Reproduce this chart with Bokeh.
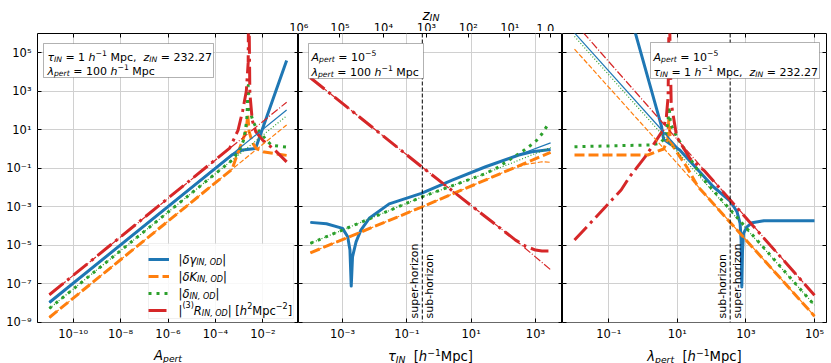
import numpy as np
from bokeh.plotting import figure
from bokeh.models import (Range1d, FixedTicker, Label, BoxAnnotation, Span, Spacer, LogAxis,
                          Legend, LegendItem, CustomJSTickFormatter)
from bokeh.layouts import row, column
from bokeh.embed import file_html
from bokeh.resources import INLINE

FONT = "DejaVu Sans"
C_BLUE, C_ORANGE, C_GREEN, C_RED = "#1f77b4", "#ff7f0e", "#2ca02c", "#d62728"

# ---------------- data (log10 values) ----------------
# Panel 1: x = log10(A_pert)
p1_blue_x = [-11.0, -3.3, -2.85, -2.31, -1.0]
p1_blue_y = [-7.97, -0.30, -0.05, 0.03, 4.6]
p1_orange_x = [-11.0, -3.3, -3.12, -2.9, -2.7, -2.64, -2.58, -2.45, -2.28, -1.94, -1.0]
p1_orange_y = [-8.75, -1.05, -0.42, 0.30, 0.97, 1.80, 0.90, 0.35, 0.02, -0.16, -0.33]
p1_green_x = [-11.0, -3.3, -3.0, -2.8, -2.68, -2.62, -2.56, -2.4, -2.28, -1.84, -1.63, -1.0]
p1_green_y = [-8.28, -0.58, -0.10, 0.50, 1.50, 3.30, 2.00, 1.40, 1.10, 0.45, 0.19, 0.10]
p1_red_x = [-11.0, -3.4, -3.05, -2.85, -2.7, -2.62, -2.61, -2.58, -2.55, -2.45, -2.3, -2.0, -1.5, -1.0]
p1_red_y = [-7.57, 0.05, 0.97, 2.0, 3.0, 4.5, 6.5, 6.5, 2.9, 1.5, 0.9, 0.45, -0.05, -0.67]
p1_lin_x = [-11.0, -1.0]
p1_lin_blue = [-7.97, 2.03]
p1_lin_orange = [-8.75, 1.25]
p1_lin_green = [-8.28, 1.72]
p1_lin_red = [-7.57, 2.43]

# Panel 2: x = log10(tau_IN)
p2_blue_x = [-4.0, -3.5, -3.0, -2.84, -2.77, -2.73, -2.69, -2.58, -2.43, -2.17, -1.55, -0.55, 0.41, 1.45, 2.48, 2.89, 3.47]
p2_blue_y = [-3.81, -3.88, -4.12, -4.56, -5.25, -7.12, -5.60, -4.82, -4.21, -3.60, -2.85, -2.30, -1.61, -0.92, -0.31, -0.14, -0.02]
p2_orange_x = [-4.0, -0.52, 3.47]
p2_orange_y = [-5.39, -3.0, -0.17]
p2_green_x = [-4.0, -0.52, 1.45, 1.8, 2.58, 3.0, 3.21, 3.41]
p2_green_y = [-4.90, -2.48, -1.27, -0.98, -0.14, 0.38, 0.81, 1.33]
p2_red_x = [-4.0, -0.54, 0.98, 2.38, 2.7, 3.0, 3.2, 3.47]
p2_red_y = [3.70, -0.92, -2.91, -4.73, -5.05, -5.25, -5.3, -5.3]
p2_lin_blue_x = [-4.0, -3.5, -3.0, -2.84, -2.77, -2.73, -2.69, -2.58, -2.43, -2.17, -1.55, -0.55, 0.41, 1.45, 2.4, 3.47]
p2_lin_blue_y = [-3.81, -3.88, -4.12, -4.56, -5.25, -7.12, -5.60, -4.82, -4.21, -3.60, -2.85, -2.30, -1.61, -0.92, -0.35, 0.32]
p2_lin_orange_x = [-4.0, -0.52, 2.3, 2.7, 3.0, 3.2, 3.47]
p2_lin_orange_y = [-5.39, -3.0, -1.0, -0.8, -0.72, -0.66, -0.69]
p2_lin_green_x = [-4.0, -0.52, 1.45, 3.47]
p2_lin_green_y = [-4.90, -2.48, -1.27, 0.08]
p2_lin_red_x = [-4.0, -0.54, 0.98, 2.38, 3.47]
p2_lin_red_y = [3.70, -0.92, -2.91, -4.73, -6.27]

# Panel 3: x = log10(lambda_pert)
p3_blue_x = [-0.3, 0.54, 0.6, 0.8, 1.07, 2.05, 2.54, 2.74, 2.83, 2.86, 2.88, 2.90, 2.93, 3.03, 3.18, 3.52, 5.0]
p3_blue_y = [6.5, 1.16, 0.5, 0.25, -0.05, -1.96, -2.70, -3.26, -3.86, -4.73, -7.16, -5.3, -4.38, -4.04, -3.83, -3.73, -3.73]
p3_orange_x = [-2.0, 0.14, 0.39, 0.6, 0.72, 0.75, 0.8, 0.88, 1.27, 1.6, 5.0]
p3_orange_y = [-0.31, -0.31, -0.14, 0.0, 0.5, 1.5, 0.4, 0.12, -0.92, -1.95, -8.68]
p3_green_x = [-2.0, 0.19, 0.49, 0.65, 0.73, 0.76, 0.8, 0.98, 1.17, 1.46, 1.8, 5.0]
p3_green_y = [0.12, 0.21, 0.29, 0.6, 1.5, 2.2, 1.3, 0.64, 0.1, -0.74, -1.65, -8.11]
p3_red_x = [-2.0, -0.64, -0.39, 0.10, 0.39, 0.58, 0.68, 0.73, 0.755, 0.775, 0.82, 0.98, 1.37, 1.8, 5.0]
p3_red_y = [-4.73, -2.13, -1.44, -0.31, 0.46, 0.98, 1.68, 2.71, 6.5, 6.5, 2.4, 0.64, -0.5, -1.15, -7.6]
p3_lin_blue_x = [-2.0, 1.07]
p3_lin_blue_y = [6.03, -0.05]
p3_lin_x = [-2.0, 5.0]
p3_lin_orange = [5.19, -8.68]
p3_lin_green = [5.85, -8.11]
p3_lin_red = [6.56, -7.59]

tau_horizon = 10 ** -0.52
lam_horizon = 10 ** 2.54

# ticks
y_ticks = [1e-9, 1e-7, 1e-5, 1e-3, 1e-1, 1e1, 1e3, 1e5]
p1_ticks = [1e-10, 1e-8, 1e-6, 1e-4, 1e-2]
p2_ticks = [1e-3, 1e-1, 1e1, 1e3]
p3_ticks = [1e-1, 1e1, 1e3, 1e5]
z_tick_labels = ["10⁶", "10⁵", "10⁴", "10³", "10²", "10¹", "1", "0"]
z_tick_logtau = [-4.36, -3.08, -1.73, -0.39, 0.91, 2.20, 3.14, 3.47]

# --------------------------------------------------------------------------
WID = {' ': .318, '(': .390, ')': .390, ',': .318, '-': .361, '.': .318, '=': .838,
       'A': .684, 'D': .770, 'I': .295, 'K': .656, 'M': .863, 'N': .748, 'O': .787,
       'R': .695, '[': .390, ']': .390, 'c': .550, 'e': .615, 'h': .634, 'i': .278,
       'n': .634, 'o': .612, 'p': .635, 'r': .411, 's': .521, 't': .392, 'u': .634,
       'z': .525, '|': .337, '−': .838, 'τ': .58, 'λ': .59, 'δ': .61, 'γ': .59}
for d in "0123456789":
    WID[d] = .636


def tw(s, fs):
    return sum(WID.get(c, 0.6) for c in s) * fs


def rich(p, x, y, segs, fs=11.0, center=False, sub_drop=0.22, sup_rise=0.40):
    parts = []
    for t, k in segs:
        f = fs * 0.7 if k in ("sub", "sup") else fs
        parts.append((t, k, f, tw(t, f)))
    total = sum(pp[3] for pp in parts)
    cx = x - total / 2 if center else x
    for t, k, f, w in parts:
        dy = -sub_drop * fs if k == "sub" else (sup_rise * fs if k == "sup" else 0)
        style = "italic" if k in ("i", "sub") else "normal"
        lead = len(t) - len(t.lstrip())
        txt = t.strip()
        if txt:
            p.add_layout(Label(x=cx + tw(t[:lead], f), y=y + dy, x_units="screen", y_units="screen",
                               text=txt, text_font=FONT, text_font_size=f"{f:.2f}px",
                               text_font_style=style, text_baseline="alphabetic",
                               text_align="left", text_color="black", level="overlay"))
        cx += w


pow_fmt = CustomJSTickFormatter(code="""
const sup = {'-':'\u207b','0':'\u2070','1':'\u00b9','2':'\u00b2','3':'\u00b3','4':'\u2074',
             '5':'\u2075','6':'\u2076','7':'\u2077','8':'\u2078','9':'\u2079'};
const e = Math.round(Math.log10(tick));
return '10' + String(e).split('').map(c => sup[c]).join('');
""")
empty_fmt = CustomJSTickFormatter(code="return ''")

FH = 289
W1, W2, W3 = 261, 264, 264
LB, RB = 37, 5
TOP_H = 31          # strip holding the z_IN axis (labels and title)
TOP_B = 2
BOT_B = 18
BOT_H = 362 - TOP_H - (TOP_B + FH + BOT_B)


def style_axis(ax, ticks, labels=True):
    ax.ticker = FixedTicker(ticks=ticks, minor_ticks=[])
    ax.formatter = pow_fmt if labels else empty_fmt
    ax.major_tick_in = 4
    ax.major_tick_out = 0
    ax.major_tick_line_color = "black"
    ax.minor_tick_line_color = None
    ax.axis_line_color = None
    ax.major_label_text_font = FONT
    ax.major_label_text_font_size = "11.5px" if labels else "1px"
    ax.major_label_text_color = "black"
    if not labels:
        ax.major_label_standoff = 0


def make_fig(xr, fw, lb, rb, xticks, top_ticks, left_axis, left_ticks=False, right_ticks=True):
    p = figure(x_axis_type="log", y_axis_type="log", x_range=xr,
               y_range=Range1d(10 ** -9.01, 10 ** 6.0),
               y_axis_location="left" if left_axis else None,
               frame_width=fw, frame_height=FH, min_border_left=lb, min_border_right=rb,
               min_border_top=TOP_B, min_border_bottom=BOT_B, output_backend="svg",
               toolbar_location=None, background_fill_color="white", border_fill_color="white")
    p.outline_line_color = "black"
    p.outline_line_width = 1
    style_axis(p.xaxis[0], xticks)
    p.xaxis[0].major_label_standoff = 4
    if left_axis:
        style_axis(p.yaxis[0], y_ticks)
        p.yaxis[0].major_label_standoff = 6
    elif left_ticks:
        lax = LogAxis()
        style_axis(lax, y_ticks, False)
        p.add_layout(lax, "left")
    if right_ticks:
        rax = LogAxis()
        style_axis(rax, y_ticks, False)
        p.add_layout(rax, "right")
    tax = LogAxis()
    style_axis(tax, top_ticks, False)
    p.add_layout(tax, "above")
    p.xgrid.ticker = FixedTicker(ticks=xticks, minor_ticks=[])
    p.ygrid.ticker = FixedTicker(ticks=y_ticks, minor_ticks=[])
    p.grid.grid_line_color = "#d0d0d0"
    p.grid.grid_line_width = 1
    return p


def text_fig(fw, fh, lb=0, rb=0, xr=None, log=False):
    kw = dict(x_axis_type="log") if log else {}
    p = figure(x_range=xr if xr is not None else Range1d(0, 1), y_range=Range1d(0, 1),
               frame_width=fw, frame_height=fh, min_border_left=lb, min_border_right=rb,
               min_border_top=0, min_border_bottom=0, x_axis_location=None,
               y_axis_location=None, output_backend="svg", toolbar_location=None,
               outline_line_color=None, border_fill_color="white", **kw)
    p.grid.visible = False
    return p


def draw(p, xs, ys, color, kind, thick):
    x = 10 ** np.array(xs)
    y = 10 ** np.array(ys)
    if thick:
        dash = {"solid": "solid", "dashed": "10 4", "dotted": "3 5", "dashdot": "18 5 3 5"}[kind]
        return p.line(x, y, line_color=color, line_width=3, line_dash=dash, line_join="round")
    dash = {"solid": "solid", "dashed": "5 2", "dotted": "1 2", "dashdot": "8 2 1 2"}[kind]
    return p.line(x, y, line_color=color, line_width=1.2, line_dash=dash)


def vtext(p, xv, text, side):
    p.add_layout(Label(x=xv, y=4, x_units="data", y_units="screen", angle=90,
                       angle_units="deg", text=text,
                       text_baseline="bottom" if side == "left" else "top",
                       text_align="left", text_font=FONT, text_font_size="11px",
                       text_color="black", x_offset=-1 if side == "left" else 1,
                       level="overlay"))


def box(p, l, r, t, b, fill_alpha=1.0, line_color="black"):
    p.add_layout(BoxAnnotation(left=l, right=r, top=t, bottom=b, left_units="screen",
                               right_units="screen", top_units="screen", bottom_units="screen",
                               fill_color="white", fill_alpha=fill_alpha, line_color=line_color,
                               line_width=1))


# ---------------- panel 1 ----------------
p1 = make_fig(Range1d(10 ** -11.5, 10 ** -0.5), W1, LB, 0, p1_ticks, p1_ticks, True)
r_b = draw(p1, p1_blue_x, p1_blue_y, C_BLUE, "solid", True)
r_o = draw(p1, p1_orange_x, p1_orange_y, C_ORANGE, "dashed", True)
r_g = draw(p1, p1_green_x, p1_green_y, C_GREEN, "dotted", True)
r_r = draw(p1, p1_red_x, p1_red_y, C_RED, "dashdot", True)
draw(p1, p1_lin_x, p1_lin_blue, C_BLUE, "solid", False)
draw(p1, p1_lin_x, p1_lin_orange, C_ORANGE, "dashed", False)
draw(p1, p1_lin_x, p1_lin_green, C_GREEN, "dotted", False)
draw(p1, p1_lin_x, p1_lin_red, C_RED, "dashdot", False)

box(p1, 111, 256, 79, 4, fill_alpha=0.85, line_color="#cccccc")
blank = "\u2007" * 15
legend = Legend(items=[LegendItem(label=blank, renderers=[r]) for r in (r_b, r_o, r_g, r_r)],
                location=(111, 4), margin=0, padding=4, spacing=1, glyph_width=21,
                glyph_height=16, label_height=16, label_standoff=5,
                label_text_font_size="11.5px", border_line_color=None,
                background_fill_alpha=0.0)
p1.add_layout(legend)
rich(p1, 141, 63, [("|", "r"), ("δγ", "i"), ("IN, OD", "sub"), ("|", "r")], fs=11.5)
rich(p1, 141, 46, [("|", "r"), ("δK", "i"), ("IN, OD", "sub"), ("|", "r")], fs=11.5)
rich(p1, 141, 29, [("|", "r"), ("δ", "i"), ("IN, OD", "sub"), ("|", "r")], fs=11.5)
rich(p1, 141, 12, [("|", "r"), ("(3)", "sup"), ("R", "i"), ("IN, OD", "sub"), ("| [", "r"),
                   ("h", "i"), ("2", "sup"), ("Mpc", "r"), ("−2", "sup"), ("]", "r")], fs=11.5)

box(p1, 6, 176, 279, 245)
rich(p1, 10, 265, [("τ", "i"), ("IN", "sub"), (" = 1 ", "r"), ("h", "i"), ("−1", "sup"),
                   (" Mpc,  ", "r"), ("z", "i"), ("IN", "sub"), (" = 232.27", "r")])
rich(p1, 10, 251, [("λ", "i"), ("pert", "sub"), (" = 100 ", "r"), ("h", "i"), ("−1", "sup"),
                   (" Mpc", "r")])

# ---------------- panel 2 ----------------
p2 = make_fig(Range1d(10 ** -4.37, 10 ** 3.84), W2, 0, 0, p2_ticks,
              [10 ** v for v in z_tick_logtau[1:]], False, left_ticks=True)
draw(p2, p2_blue_x, p2_blue_y, C_BLUE, "solid", True)
draw(p2, p2_orange_x, p2_orange_y, C_ORANGE, "dashed", True)
draw(p2, p2_green_x, p2_green_y, C_GREEN, "dotted", True)
draw(p2, p2_red_x, p2_red_y, C_RED, "dashdot", True)
draw(p2, p2_lin_blue_x, p2_lin_blue_y, C_BLUE, "solid", False)
draw(p2, p2_lin_orange_x, p2_lin_orange_y, C_ORANGE, "dashed", False)
draw(p2, p2_lin_green_x, p2_lin_green_y, C_GREEN, "dotted", False)
draw(p2, p2_lin_red_x, p2_lin_red_y, C_RED, "dashdot", False)
p2.add_layout(Span(location=tau_horizon, dimension="height", line_color="black",
                   line_dash="4 2", line_width=1))
vtext(p2, tau_horizon, "super-horizon", "left")
vtext(p2, tau_horizon, "sub-horizon", "right")
box(p2, 10, 125, 279, 244)
rich(p2, 13, 265, [("A", "i"), ("pert", "sub"), (" = 10", "r"), ("−5", "sup")])
rich(p2, 13, 250, [("λ", "i"), ("pert", "sub"), (" = 100 ", "r"), ("h", "i"), ("−1", "sup"),
                   (" Mpc", "r")])

# ---------------- panel 3 ----------------
p3 = make_fig(Range1d(10 ** -2.35, 10 ** 5.35), W3, 0, RB, p3_ticks, p3_ticks, False,
              left_ticks=True)
draw(p3, p3_blue_x, p3_blue_y, C_BLUE, "solid", True)
draw(p3, p3_orange_x, p3_orange_y, C_ORANGE, "dashed", True)
draw(p3, p3_green_x, p3_green_y, C_GREEN, "dotted", True)
draw(p3, p3_red_x, p3_red_y, C_RED, "dashdot", True)
draw(p3, p3_lin_blue_x, p3_lin_blue_y, C_BLUE, "solid", False)
draw(p3, p3_lin_x, p3_lin_orange, C_ORANGE, "dashed", False)
draw(p3, p3_lin_x, p3_lin_green, C_GREEN, "dotted", False)
draw(p3, p3_lin_x, p3_lin_red, C_RED, "dashdot", False)
p3.add_layout(Span(location=lam_horizon, dimension="height", line_color="black",
                   line_dash="4 2", line_width=1))
vtext(p3, lam_horizon, "sub-horizon", "left")
vtext(p3, lam_horizon, "super-horizon", "right")
box(p3, 88, 257, 280, 244)
rich(p3, 91, 265, [("A", "i"), ("pert", "sub"), (" = 10", "r"), ("−5", "sup")])
rich(p3, 91, 250, [("τ", "i"), ("IN", "sub"), (" = 1 ", "r"), ("h", "i"), ("−1", "sup"),
                   (" Mpc,  ", "r"), ("z", "i"), ("IN", "sub"), (" = 232.27", "r")])

# ---------------- top strip: z_IN axis of panel 2 ----------------
EXT = 22
k = (3.84 + 4.37) / W2
t2 = text_fig(W2 + 2 * EXT, TOP_H,
              xr=Range1d(10 ** (-4.37 - EXT * k), 10 ** (3.84 + EXT * k)), log=True)
for lt, lab in zip(z_tick_logtau, z_tick_labels):
    t2.add_layout(Label(x=10 ** lt, y=TOP_H - 27.7, x_units="data", y_units="screen", text=lab,
                        text_align="center", text_baseline="alphabetic", text_font=FONT,
                        text_font_size="11.5px", text_color="black"))
rich(t2, EXT + 132.5, TOP_H - 14.5, [("z", "i"), ("IN", "sub")], fs=13.5, center=True,
     sub_drop=0.18)
top_row = row(Spacer(width=LB + W1 - EXT, height=TOP_H), t2,
              Spacer(width=W3 + RB - EXT, height=TOP_H))

# ---------------- bottom strip: x-axis titles ----------------
b1 = text_fig(W1, BOT_H, lb=LB)
rich(b1, W1 / 2, 9.8, [("A", "i"), ("pert", "sub")], fs=13.2, center=True)
b2 = text_fig(W2, BOT_H)
rich(b2, W2 / 2, 9, [("τ", "i"), ("IN", "sub"), ("  [", "r"), ("h", "i"),
                     ("−1", "sup"), ("Mpc]", "r")], fs=13.2, center=True, sup_rise=0.33)
b3 = text_fig(W3, BOT_H, rb=RB)
rich(b3, W3 / 2, 9, [("λ", "i"), ("pert", "sub"), ("  [", "r"), ("h", "i"),
                     ("−1", "sup"), ("Mpc]", "r")], fs=13.2, center=True, sup_rise=0.33)
bottom_row = row(b1, b2, b3)

layout = column(top_row, row(p1, p2, p3), bottom_row)
open("out.html", "w").write(file_html(layout, INLINE))
